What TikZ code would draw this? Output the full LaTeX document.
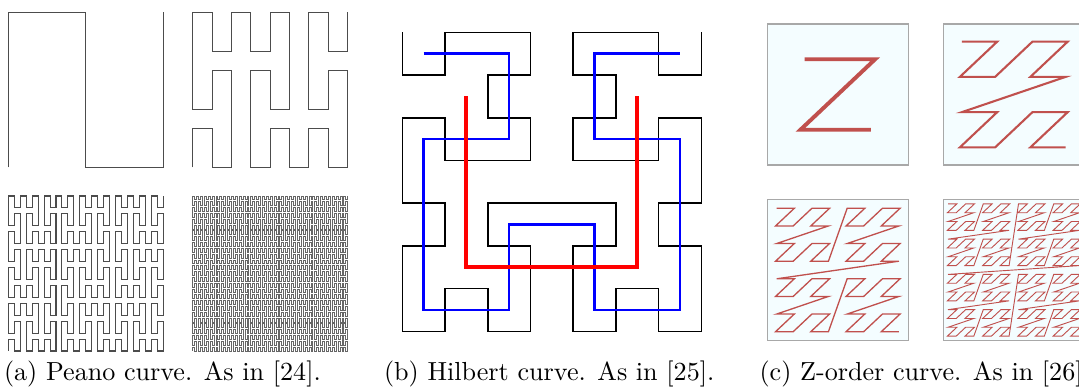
\documentclass[tikz,border=0pt]{standalone}
\usepackage{xcolor}
\usepackage{tikz}
\usetikzlibrary{lindenmayersystems}

\definecolor{zred}{RGB}{192,80,77}
\definecolor{zfill}{RGB}{244,253,255}
\definecolor{zframe}{RGB}{168,168,168}

% curves as L-systems, signs swapped so the first step goes the right way
\pgfdeclarelindenmayersystem{Peano}{
  \rule{X -> XFYFX-F-YFXFY+F+XFYFX}
  \rule{Y -> YFXFY+F+XFYFX-F-YFXFY}}
\pgfdeclarelindenmayersystem{Hilbert}{
  \rule{L -> -RF+LFL+FR-}
  \rule{R -> +LF-RFR-FL+}}

\begin{document}
\begin{tikzpicture}[
    x=0.383pt, y=-0.383pt,
    peano/.style={draw=black!70, line width=0.4pt},
    hilb/.style={line width=0.6pt},
    zbox/.style={draw=zframe, fill=zfill, line width=0.6pt},
    zline/.style={draw=zred},
    caption/.style={inner sep=0pt, anchor=base west},
    declare function={
      zi(\k)=mod(\k,2)+2*mod(floor(\k/4),2)+4*mod(floor(\k/16),2)+8*mod(floor(\k/64),2);
      zj(\k)=mod(floor(\k/2),2)+2*mod(floor(\k/8),2)+4*mod(floor(\k/32),2)+8*mod(floor(\k/128),2);
    }
]
\clip (0,0) rectangle (1079,392);

% (a) Peano
\draw[peano, shift={(8.3,167.3)}, lindenmayer system={Peano, axiom=+X, order=1, step=29.68pt, angle=90}] lindenmayer system;
\draw[peano, shift={(192.7,167.3)}, lindenmayer system={Peano, axiom=+X, order=2, step=7.4206pt, angle=90}] lindenmayer system;
\draw[peano, shift={(8.3,351)}, lindenmayer system={Peano, axiom=+X, order=3, step=2.2833pt, angle=90}] lindenmayer system;
\draw[peano, draw=black!60, line width=0.3pt, shift={(192.7,351)}, lindenmayer system={Peano, axiom=+X, order=4, step=0.74206pt, angle=90}] lindenmayer system;

% (b) Hilbert, three orders on top of each other
\draw[hilb, black, shift={(402.3,32.3)}, lindenmayer system={Hilbert, axiom=L, order=3, step=16.36pt, angle=90}] lindenmayer system;
\draw[hilb, blue, line width=1pt, shift={(423.7,53.7)}, lindenmayer system={Hilbert, axiom=L, order=2, step=32.72pt, angle=90}] lindenmayer system;
\draw[hilb, red, line width=1.5pt, shift={(466.4,96.4)}, lindenmayer system={Hilbert, axiom=L, order=1, step=65.43pt, angle=90}] lindenmayer system;

% (c) Z-order
\foreach \bx/\by in {767.3/24, 943.3/24, 767.3/199.5, 943.3/199.5}
  \draw[zbox] (\bx,\by) rectangle ++(141,141);
\draw[zline, line width=1.5pt] plot[variable=\k, samples at={0,...,3}]
  ({767.3+(zi(\k)+0.5)*70.5+4.2*(0.5-mod(zj(\k),2))}, {24+(zj(\k)+0.5)*70.5});
\draw[zline, line width=0.8pt] plot[variable=\k, samples at={0,...,15}]
  ({943.3+(zi(\k)+0.5)*35.25+2.1*(0.5-mod(zj(\k),2))}, {24+(zj(\k)+0.5)*35.25});
\draw[zline, line width=0.5pt] plot[variable=\k, samples at={0,...,63}]
  ({767.3+(zi(\k)+0.5)*17.625+1.1*(0.5-mod(zj(\k),2))}, {199.5+(zj(\k)+0.5)*17.625});
\draw[zline, line width=0.35pt] plot[variable=\k, samples at={0,...,255}]
  ({943.3+(zi(\k)+0.5)*8.8125+0.6*(0.5-mod(zj(\k),2))}, {199.5+(zj(\k)+0.5)*8.8125});

% captions
\node[caption] (capPeano) at (3.5,381) {(a) Peano curve. As in [24].};
\node[caption] (capHilbert) at (383.5,381) {(b) Hilbert curve. As in [25].};
\node[caption] (capZorder) at (759,381) {(c) Z-order curve. As in [26].};
\end{tikzpicture}
\end{document}
